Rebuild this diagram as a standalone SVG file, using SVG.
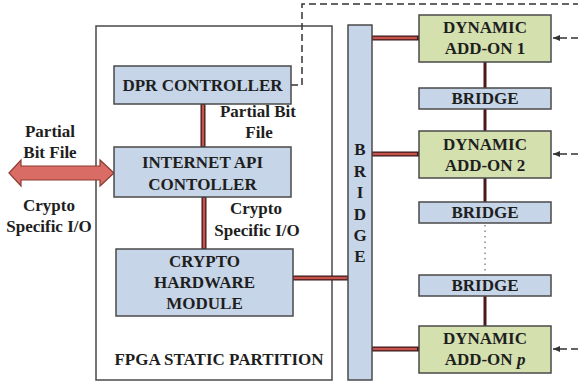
<svg xmlns="http://www.w3.org/2000/svg" width="578" height="386" viewBox="0 0 578 386">
<defs>
<style>
text{font-family:"Liberation Serif","Times New Roman",serif;font-weight:bold;font-size:17px;fill:#1e1e1e;text-anchor:middle}
.blue{fill:#c6d5e7;stroke:#4a4a4a;stroke-width:1.5}
.green{fill:#d4e0ae;stroke:#4a4a4a;stroke-width:1.5}
.frame{fill:#fff;stroke:#4a4a4a;stroke-width:1.5}
.rc-o{stroke:#3a1818;stroke-width:5;fill:none}
.rc-i{stroke:#c9524c;stroke-width:2.5;fill:none}
.dk{stroke:#4a1a1a;stroke-width:3;fill:none}
.dash{stroke:#333;stroke-width:1.5;fill:none;stroke-dasharray:7,4}
.dot{stroke:#888;stroke-width:1.5;fill:none;stroke-dasharray:1.5,4}
</style>
<marker id="ah" markerWidth="8" markerHeight="8" refX="7" refY="4" orient="auto" markerUnits="userSpaceOnUse">
<path d="M0,1 L7,4 L0,7 z" fill="#333"/>
</marker>
</defs>
<rect width="578" height="386" fill="#fff"/>

<g id="fpga-static-partition">
<rect class="frame" x="96" y="26" width="236" height="354"/>
<text x="219" y="365">FPGA STATIC PARTITION</text>
</g>

<g id="connectors">
<!-- dashed control lines -->
<path class="dash" d="M291,85 H302 V4 H578"/>
<line class="dash" x1="578" y1="38" x2="553" y2="38" marker-end="url(#ah)"/>
<line class="dash" x1="578" y1="154" x2="553" y2="154" marker-end="url(#ah)"/>
<line class="dash" x1="578" y1="349" x2="553" y2="349" marker-end="url(#ah)"/>
<!-- red bus connectors -->
<line class="rc-o" x1="203" y1="104" x2="203" y2="147"/>
<line class="rc-i" x1="203" y1="105" x2="203" y2="146"/>
<line class="rc-o" x1="204" y1="197" x2="204" y2="249"/>
<line class="rc-i" x1="204" y1="198" x2="204" y2="248"/>
<line class="rc-o" x1="293" y1="278" x2="348" y2="278"/>
<line class="rc-i" x1="294" y1="278" x2="347" y2="278"/>
<line class="rc-o" x1="372" y1="38" x2="419" y2="38"/>
<line class="rc-i" x1="373" y1="38" x2="417" y2="38"/>
<line class="rc-o" x1="372" y1="154" x2="419" y2="154"/>
<line class="rc-i" x1="373" y1="154" x2="417" y2="154"/>
<line class="rc-o" x1="372" y1="349" x2="419" y2="349"/>
<line class="rc-i" x1="373" y1="349" x2="417" y2="349"/>
<!-- dynamic stack links -->
<line class="dk" x1="485" y1="62" x2="485" y2="88"/>
<line class="dk" x1="485" y1="109" x2="485" y2="131"/>
<line class="dk" x1="485" y1="178" x2="485" y2="202"/>
<line class="dot" x1="485" y1="225" x2="485" y2="275"/>
<line class="dk" x1="485" y1="296" x2="485" y2="326"/>
<!-- external double arrow -->
<path d="M9,173 L21,160 L21,166 L100,166 L100,160 L114,173 L100,186 L100,180 L21,180 L21,186 Z" fill="#d96c64" stroke="#8e3b35" stroke-width="1.2"/>
</g>

<g id="dpr-controller">
<rect class="blue" x="114" y="66" width="177" height="38"/>
<text x="202.5" y="91">DPR CONTROLLER</text>
</g>

<g id="internet-api-controller">
<rect class="blue" x="114" y="147" width="177" height="50"/>
<text x="202.5" y="168">INTERNET API</text>
<text x="202.5" y="190">CONTOLLER</text>
</g>

<g id="crypto-hardware-module">
<rect class="blue" x="116" y="249" width="177" height="67"/>
<text x="204.5" y="267">CRYPTO</text>
<text x="204.5" y="288">HARDWARE</text>
<text x="204.5" y="309">MODULE</text>
</g>

<g id="bridge-main">
<rect class="blue" x="348" y="25" width="24" height="355"/>
<text x="360" y="155">B</text>
<text x="360" y="177">R</text>
<text x="360" y="198">I</text>
<text x="360" y="220">D</text>
<text x="360" y="241">G</text>
<text x="360" y="262">E</text>
</g>

<g id="dynamic-add-on-1">
<rect class="green" x="419" y="15" width="132" height="47"/>
<text x="485" y="33">DYNAMIC</text>
<text x="485" y="54">ADD-ON 1</text>
</g>

<g id="bridge-1">
<rect class="blue" x="419" y="88" width="132" height="21"/>
<text x="485" y="104">BRIDGE</text>
</g>

<g id="dynamic-add-on-2">
<rect class="green" x="419" y="131" width="132" height="47"/>
<text x="485" y="150">DYNAMIC</text>
<text x="485" y="171">ADD-ON 2</text>
</g>

<g id="bridge-2">
<rect class="blue" x="419" y="202" width="132" height="21"/>
<text x="485" y="218">BRIDGE</text>
</g>

<g id="bridge-3">
<rect class="blue" x="419" y="275" width="132" height="21"/>
<text x="485" y="291">BRIDGE</text>
</g>

<g id="dynamic-add-on-p">
<rect class="green" x="419" y="326" width="132" height="47"/>
<text x="485" y="344">DYNAMIC</text>
<text x="485" y="365">ADD-ON <tspan font-style="italic">p</tspan></text>
</g>

<g id="labels">
<text x="50" y="137">Partial</text>
<text x="50" y="158">Bit File</text>
<text x="49" y="211">Crypto</text>
<text x="49" y="232">Specific I/O</text>
<text x="258" y="117">Partial Bit</text>
<text x="259" y="138">File</text>
<text x="256" y="214">Crypto</text>
<text x="257" y="236">Specific I/O</text>
</g>
</svg>
